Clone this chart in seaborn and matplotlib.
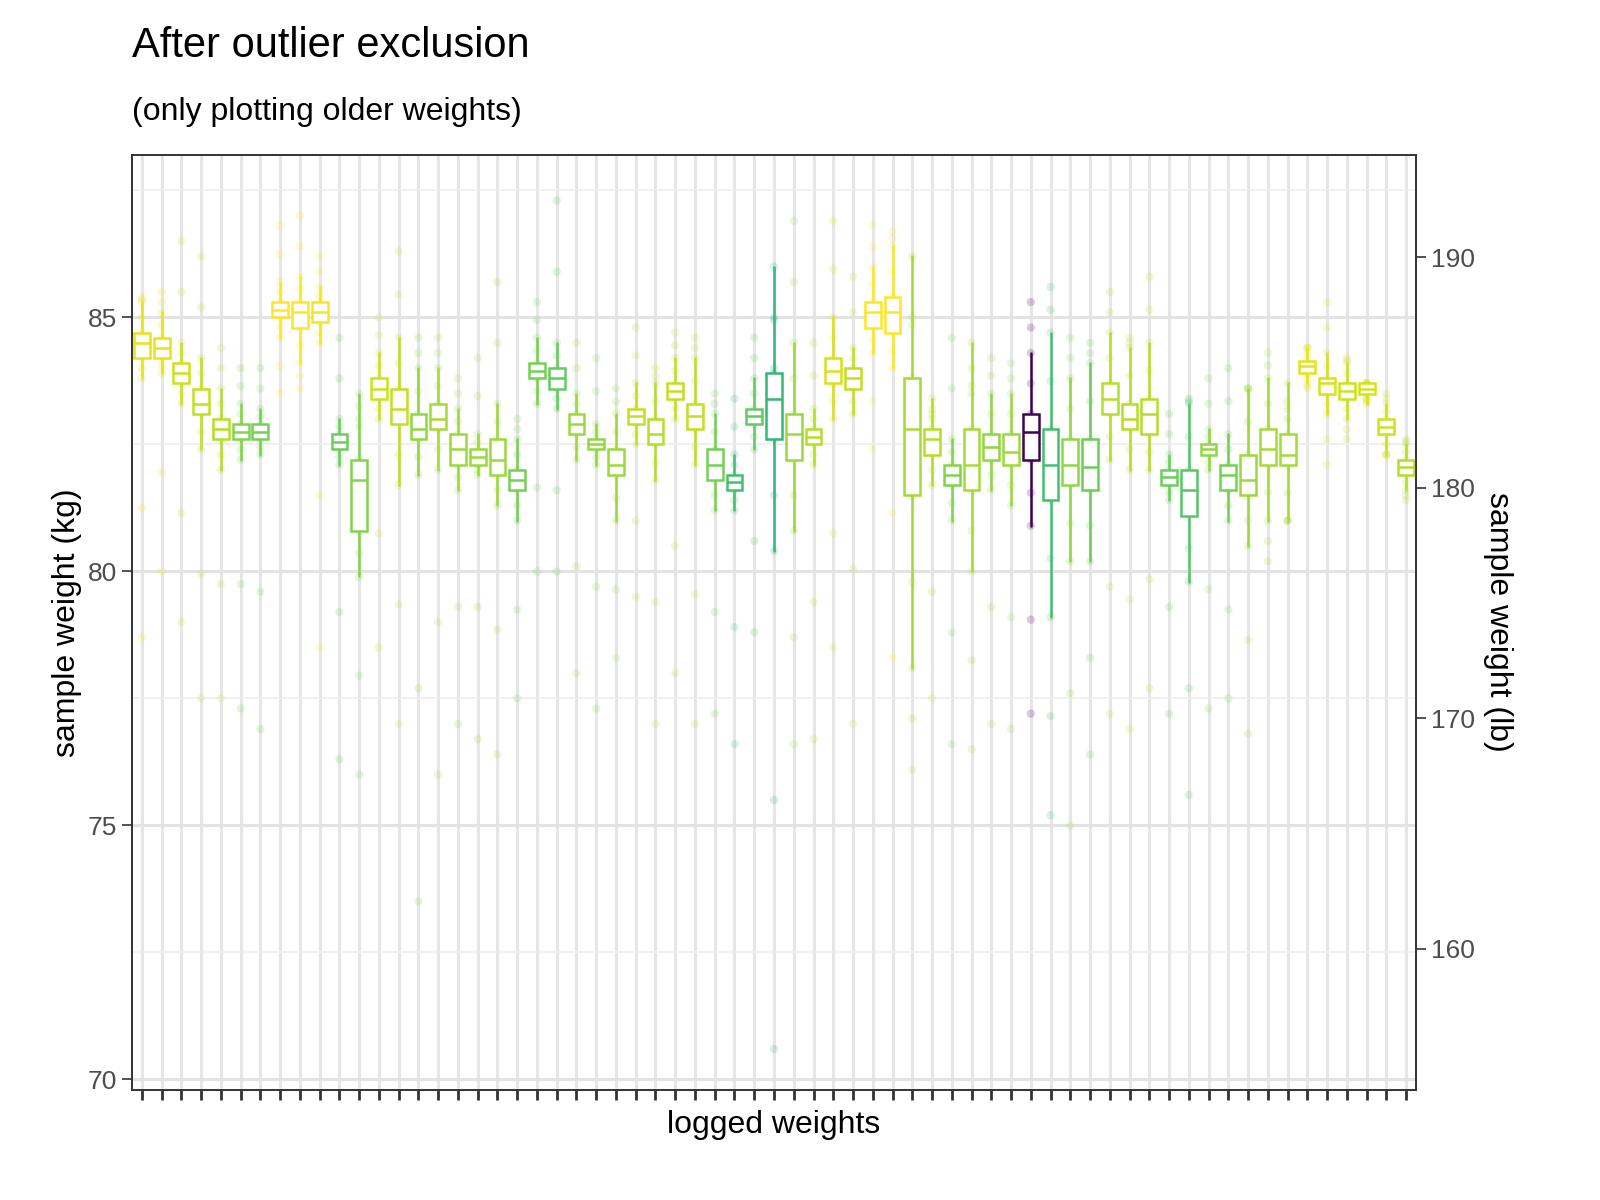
import matplotlib
matplotlib.use("Agg")
import matplotlib.pyplot as plt
import seaborn as sns
import pandas as pd
import numpy as np

q1 = [84.2,84.2,83.7,83.1,82.6,82.6,82.6,85.0,84.8,84.9,82.4,80.8,83.4,82.9,82.6,82.8,82.1,82.1,81.9,81.6,
      83.8,83.6,82.7,82.4,81.9,82.9,82.5,83.4,82.8,81.8,81.6,82.9,82.6,82.2,82.5,83.7,83.6,84.8,84.7,81.5,
      82.3,81.7,81.6,82.2,82.1,82.2,81.4,81.7,81.6,83.1,82.8,82.7,81.7,81.1,82.3,81.6,81.5,82.1,82.1,83.9,
      83.5,83.4,83.5,82.7,81.9]
med = [84.5,84.4,83.9,83.3,82.8,82.75,82.75,85.15,85.1,85.1,82.55,81.8,83.6,83.2,82.8,83.0,82.4,82.25,82.2,81.8,
       83.95,83.8,82.9,82.5,82.1,83.05,82.7,83.55,83.05,82.1,81.75,83.05,83.4,82.7,82.65,83.95,83.8,85.1,85.1,82.8,
       82.6,81.9,82.1,82.45,82.35,82.75,82.1,82.1,82.05,83.4,83.0,83.1,81.85,81.6,82.4,81.9,81.8,82.4,82.3,84.05,
       83.7,83.55,83.6,82.85,82.05]
q3 = [84.7,84.6,84.1,83.6,83.0,82.9,82.9,85.3,85.3,85.3,82.7,82.2,83.8,83.6,83.1,83.3,82.7,82.4,82.6,82.0,
      84.1,84.0,83.1,82.6,82.4,83.2,83.0,83.7,83.3,82.4,81.9,83.2,83.9,83.1,82.8,84.2,84.0,85.3,85.4,83.8,
      82.8,82.1,82.8,82.7,82.7,83.1,82.8,82.6,82.6,83.7,83.3,83.4,82.0,82.0,82.5,82.1,82.3,82.8,82.7,84.15,
      83.8,83.7,83.7,83.0,82.2]
wlo = [83.8,83.9,83.3,82.4,82.0,82.2,82.3,84.6,84.1,84.5,82.1,79.9,83.0,81.7,81.9,82.0,81.6,81.9,81.3,81.0,
       83.3,83.2,82.2,82.1,81.0,82.5,81.8,83.0,82.1,81.2,81.2,82.4,80.4,80.8,82.1,83.0,83.1,84.3,84.0,78.1,
       81.7,81.0,80.0,81.6,81.3,80.9,79.1,80.2,80.2,82.2,82.0,82.0,81.4,79.8,82.0,81.0,80.5,81.0,81.0,83.7,
       83.1,83.0,83.3,82.3,81.6]
whi = [85.3,85.1,84.5,84.2,83.6,83.3,83.2,85.7,85.8,85.6,83.0,83.5,84.3,84.6,84.0,84.0,83.2,82.7,83.3,82.6,
       84.6,84.5,83.5,82.9,83.1,83.7,83.7,84.2,84.2,83.1,82.3,83.8,86.0,84.5,83.2,85.0,84.4,86.0,86.4,86.2,
       83.4,82.6,84.5,83.5,83.5,84.3,84.7,83.8,84.1,84.7,84.4,84.5,82.3,83.3,82.8,82.7,83.6,83.8,83.7,84.4,
       84.3,84.1,83.7,83.3,82.5]
colval = [0.95,0.95,0.9,0.88,0.85,0.75,0.72,1.0,1.0,0.98,0.7,0.75,0.9,0.88,0.78,0.82,0.8,0.8,0.8,0.72,
          0.72,0.68,0.8,0.78,0.8,0.88,0.85,0.88,0.88,0.72,0.6,0.68,0.55,0.8,0.85,0.92,0.88,1.0,1.0,0.82,
          0.85,0.75,0.82,0.78,0.8,0.0,0.6,0.78,0.7,0.85,0.85,0.85,0.7,0.65,0.78,0.72,0.8,0.82,0.82,0.95,
          0.92,0.9,0.92,0.9,0.85]
pts_lo = [78.7,80.0,79.0,77.5,77.5,77.3,76.9,83.5,83.6,78.5,76.3,76.0,78.5,77.0,73.5,76.0,77.0,76.7,76.4,77.5,
          80.0,80.0,78.0,77.3,78.3,79.5,77.0,78.0,77.0,77.2,76.6,78.8,70.6,76.6,76.7,78.5,77.0,82.4,78.3,76.1,
          77.5,76.6,76.5,77.0,76.9,77.2,75.2,75.0,76.4,77.2,76.9,77.7,77.2,75.6,77.3,77.5,76.8,80.2,81.0,83.6,
          82.1,82.6,83.4,82.3,81.4]
pts_hi = [85.4,85.5,86.5,86.2,84.4,84.0,84.0,86.8,87.0,86.2,84.6,83.0,85.0,86.3,84.6,84.6,83.8,84.2,85.7,83.0,
          85.3,87.3,84.5,84.2,83.6,84.8,84.0,84.7,84.6,83.5,83.4,84.6,84.0,86.9,84.5,86.9,85.8,86.8,86.7,83.5,
          83.0,84.6,83.5,84.2,84.1,85.3,85.6,84.6,84.5,85.5,84.6,85.8,83.1,83.4,83.8,84.0,83.6,84.3,83.0,84.4,
          85.3,84.2,83.7,83.5,82.6]

n = len(med)
cats = [f"w{i:02d}" for i in range(n)]
cmap = plt.get_cmap("viridis")
colors = [cmap(0.25 + 0.75 * c) if c > 0 else cmap(0.0) for c in colval]

rows = []
for i in range(n):
    vals = [pts_lo[i], wlo[i], q1[i], med[i], q3[i], whi[i], pts_hi[i],
            (pts_lo[i] + wlo[i]) / 2, (whi[i] + pts_hi[i]) / 2,
            (wlo[i] + q1[i]) / 2, (q3[i] + whi[i]) / 2]
    for v in vals:
        rows.append((cats[i], v))
df = pd.DataFrame(rows, columns=["cat", "kg"])

sns.set_theme(style="white")
plt.rcParams['font.family'] = ['Liberation Sans', 'DejaVu Sans']
fig = plt.figure(figsize=(16, 12), dpi=100)
ax = fig.add_axes([0.0825, 0.092, 0.8025, 0.779])

for i in range(n):
    ax.axvline(i, color="#e6e6e6", lw=2.2, zorder=0)
for y in [72.5, 77.5, 82.5, 87.5]:
    ax.axhline(y, color="#eeeeee", lw=1.2, zorder=0)
for y in [70, 75, 80, 85]:
    ax.axhline(y, color="#e3e3e3", lw=2.2, zorder=0)

sns.stripplot(data=df, x="cat", y="kg", hue="cat", palette=colors, order=cats,
              jitter=False, size=6, alpha=0.2, linewidth=0, legend=False, ax=ax, zorder=1)

stats = [dict(med=med[i], q1=q1[i], q3=q3[i], whislo=wlo[i], whishi=whi[i], fliers=[]) for i in range(n)]
b = ax.bxp(stats, positions=range(n), widths=0.8, showfliers=False, patch_artist=True, manage_ticks=False)
for i in range(n):
    c = colors[i]
    b["boxes"][i].set(facecolor="white", edgecolor=c, lw=1.8, zorder=3)
    b["medians"][i].set(color=c, lw=1.8, zorder=4)
    for w in b["whiskers"][2*i:2*i+2]:
        w.set(color=c, lw=1.8, zorder=2)
    for cp in b["caps"][2*i:2*i+2]:
        cp.set(visible=False)

ax.set_xlim(-0.5, n - 0.5)
ax.set_ylim(69.8, 88.2)
ax.set_yticks([70, 75, 80, 85])
ax.set_xticks(range(n))
ax.set_xticklabels([])
ax.tick_params(axis="x", length=7, width=2, color="#333333", bottom=True)
ax.tick_params(axis="y", length=7, width=1.2, color="#333333", left=True, labelsize=19, labelcolor="#4d4d4d")
for s in ax.spines.values():
    s.set_color("#333333"); s.set_linewidth(1.2)
ax.set_xlabel("logged weights", fontsize=23, color="black")
ax.set_ylabel("sample weight (kg)", fontsize=23, color="black")

ax2 = ax.twinx()
ax2.set_ylim(69.8 * 2.20462, 88.2 * 2.20462)
ax2.set_yticks([160, 170, 180, 190])
ax2.tick_params(axis="y", length=7, width=1.2, color="#333333", right=True, labelsize=19, labelcolor="#4d4d4d")
ax2.set_ylabel("sample weight (lb)", fontsize=23, rotation=270, labelpad=28, color="black")
ax2.grid(False)
for s in ax2.spines.values():
    s.set_color("#333333"); s.set_linewidth(1.2)

fig.text(0.0825, 0.962, "After outlier exclusion", fontsize=30, va="center", color="black")
fig.text(0.0825, 0.907, "(only plotting older weights)", fontsize=23, va="center", color="black")
fig.savefig("out.png", dpi=100)
